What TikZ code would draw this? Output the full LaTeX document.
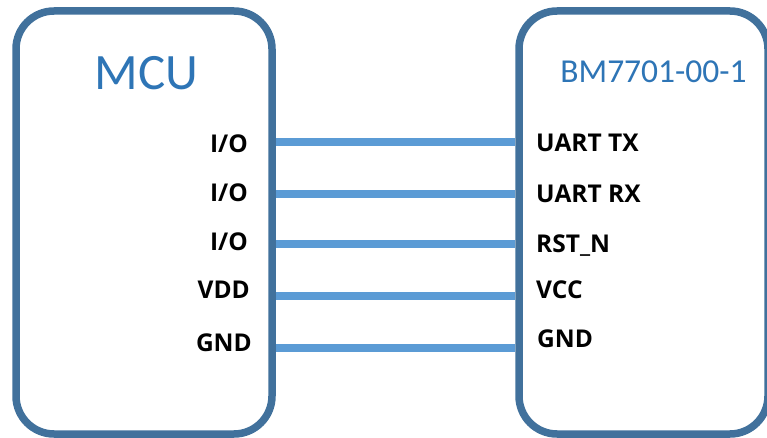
\documentclass[tikz,border=0pt]{standalone}
\usepackage{fontspec}
\setmainfont{Carlito}
\newfontfamily\pinfont{Open Sans}
\definecolor{boxblue}{HTML}{41719C}
\definecolor{wireblue}{HTML}{5B9BD5}
\definecolor{titleblue}{HTML}{2E75B6}
\begin{document}
\begin{tikzpicture}[x=1pt,y=-1pt,
  chip/.style={draw=boxblue, line width=7.5pt, rounded corners=38pt, fill=white, inner sep=0pt},
  wire/.style={draw=wireblue, line width=7.5pt},
  pinl/.style={font=\pinfont\bfseries\fontsize{24.5}{26}\selectfont, inner sep=0pt, anchor=base east},
  pinr/.style={font=\pinfont\bfseries\fontsize{24.5}{26}\selectfont, inner sep=0pt, anchor=base west},
  title/.style={text=titleblue, inner sep=0pt, anchor=base}]
\useasboundingbox (0,0) rectangle (767,438);
\node[chip, minimum width=256pt, minimum height=423pt] (mcu) at (144,222.5) {};
\node[chip, minimum width=249pt, minimum height=423pt] (bm) at (643.5,222.5) {};
\node[title, font=\fontsize{51}{54}\selectfont] (mcut) at (146.5,90) {MCU};
\node[title, font=\fontsize{33.5}{36}\selectfont] (bmt) at (653.5,83) {BM7701-00-1};
% pin rows
\coordinate (r1) at (0,142);
\coordinate (r2) at (0,194);
\coordinate (r3) at (0,244);
\coordinate (r4) at (0,296);
\coordinate (r5) at (0,348);
\node[pinl] (l1) at (248,153) {I/O};
\node[pinl] (l2) at (248,202) {I/O};
\node[pinl] (l3) at (248,250) {I/O};
\node[pinl] (l4) at (250,298) {VDD};
\node[pinl] (l5) at (252,351) {GND};
\node[pinr] (p1) at (536,152) {UART TX};
\node[pinr] (p2) at (536,203) {UART RX};
\node[pinr] (p3) at (536,252) {RST\_N};
\node[pinr] (p4) at (536,298) {VCC};
\node[pinr] (p5) at (537,347) {GND};
\foreach \i in {1,...,5}{
  \draw[wire] (mcu.east |- r\i) -- (bm.west |- r\i);
}
\end{tikzpicture}
\end{document}
